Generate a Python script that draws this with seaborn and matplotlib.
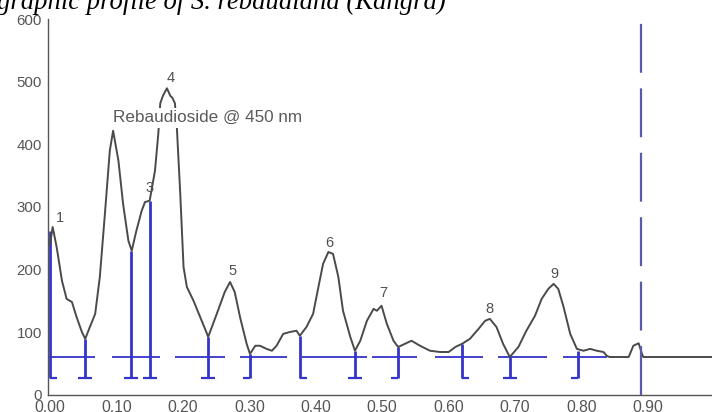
import numpy as np
import pandas as pd
import matplotlib
matplotlib.use("Agg")
import matplotlib.pyplot as plt
import seaborn as sns

# ---- data ----
rf = [0.000, 0.004, 0.010, 0.018, 0.025, 0.033, 0.040, 0.048, 0.053, 0.060,
      0.068, 0.075, 0.083, 0.090, 0.095, 0.103, 0.110, 0.118, 0.123, 0.130,
      0.138, 0.143, 0.150, 0.158, 0.163, 0.166, 0.170, 0.176, 0.181, 0.184,
      0.188, 0.191, 0.196, 0.201, 0.206, 0.216, 0.226, 0.236, 0.238, 0.251,
      0.263, 0.271, 0.278, 0.286, 0.296, 0.301, 0.309, 0.316, 0.326, 0.334,
      0.341, 0.351, 0.361, 0.371, 0.376, 0.386, 0.396, 0.404, 0.411, 0.419,
      0.426, 0.434, 0.441, 0.452, 0.459, 0.467, 0.477, 0.487, 0.492, 0.499,
      0.507, 0.517, 0.524, 0.534, 0.544, 0.557, 0.572, 0.587, 0.600, 0.610,
      0.620, 0.632, 0.645, 0.655, 0.662, 0.672, 0.682, 0.692, 0.705, 0.717,
      0.730, 0.740, 0.750, 0.758, 0.765, 0.773, 0.783, 0.793, 0.803, 0.813,
      0.823, 0.833, 0.838, 0.842, 0.871, 0.878, 0.886, 0.891, 0.893, 1.000]
au = [240, 268, 236, 182, 153, 148, 124, 100, 89, 108,
      129, 188, 294, 390, 422, 374, 305, 246, 230, 262,
      294, 308, 310, 358, 417, 466, 478, 490, 478, 475,
      466, 426, 322, 204, 172, 150, 124, 98, 92, 129,
      164, 180, 164, 124, 81, 65, 78, 78, 73, 70,
      78, 97, 100, 102, 94, 108, 129, 172, 209, 228,
      225, 188, 134, 92, 70, 86, 118, 137, 134, 142,
      113, 86, 76, 81, 86, 78, 70, 68, 68, 76,
      81, 89, 105, 118, 121, 108, 81, 60, 76, 102,
      126, 153, 169, 177, 169, 140, 97, 73, 70, 73,
      70, 68, 62, 60, 60, 78, 82, 65, 60, 60]

# integration boundaries
bound_rf = [0.000, 0.053, 0.122, 0.150, 0.238, 0.301, 0.376, 0.459, 0.524, 0.620, 0.692, 0.795]
bound_au = [262, 89, 230, 310, 92, 65, 94, 70, 76, 81, 60, 70]
bound_kind = ["start", "both", "both", "both", "both", "end", "start", "both", "end", "start", "both", "end"]
bound_bottom = 26
baseline_au = 60
seg_start = [-0.003, 0.093, 0.188, 0.286, 0.379, 0.485, 0.579, 0.674, 0.772]
seg_end = [0.068, 0.166, 0.263, 0.357, 0.477, 0.552, 0.652, 0.748, 0.838]

# peak labels
peak_names = ["1", "3", "4", "5", "6", "7", "8", "9"]
peak_rf = [0.015, 0.150, 0.181, 0.275, 0.421, 0.501, 0.662, 0.759]
peak_au = [283, 330, 507, 198, 243, 163, 137, 193]

front_rf = 0.890
x_ticks = [0.0, 0.1, 0.2, 0.3, 0.4, 0.5, 0.6, 0.7, 0.8, 0.9]
y_ticks = [0, 100, 200, 300, 400, 500, 600]
annot = "Rebaudioside @ 450 nm"
annot_pos = (0.095, 443)
title = "graphic profile of S. rebaudiana (Kangra)"

# ---- style ----
sns.set_style("white")
plt.rcParams["font.family"] = ["Liberation Sans", "DejaVu Sans"]

W, H = 712, 412
fig = plt.figure(figsize=(W / 100, H / 100), dpi=100)
ax_left, ax_bottom, ax_top = 47.5, 394.5, 19.5
ax = fig.add_axes([ax_left / W, (H - ax_bottom) / H, (W - ax_left) / W, (ax_bottom - ax_top) / H])

blue = "#3434c8"
df = pd.DataFrame({"rf": rf, "au": au})
sns.lineplot(data=df, x="rf", y="au", ax=ax, color="#4a4a4a", lw=1.4, zorder=3)

# baseline segments
ax.hlines([baseline_au] * len(seg_start), seg_start, seg_end, colors=blue, lw=1.3, zorder=2)
# boundary drop lines and feet
foot = 0.0105
ax.vlines(bound_rf, bound_bottom, bound_au, colors=blue, lw=2.0, zorder=2)
for x, k in zip(bound_rf, bound_kind):
    x0 = x - foot if k in ("both", "end") else x
    x1 = x + foot if k in ("both", "start") else x
    ax.hlines(bound_bottom, x0, x1, colors=blue, lw=1.6, zorder=2)

# solvent front line
ax.axvline(front_rf, color="#5a5aa8", lw=1.6, dashes=(22, 7), zorder=4)

for n, x, y in zip(peak_names, peak_rf, peak_au):
    ax.text(x, y, n, ha="center", va="center", fontsize=10.5, color="#505050", zorder=5)

ax.text(annot_pos[0], annot_pos[1], annot, ha="left", va="center", fontsize=12.3,
        color="#5a5a5a", zorder=6,
        bbox=dict(boxstyle="square,pad=0.15", fc="white", ec="none"))

x_lo = -(50 - ax_left) / 664.4
x_hi = (W - 50) / 664.4
ax.set_xlim(x_lo, x_hi)
ax.set_ylim(0, 600)
ax.set_xticks(x_ticks)
ax.set_xticklabels([f"{v:.2f}" for v in x_ticks])
ax.set_yticks(y_ticks)
ax.set_yticklabels([str(v) for v in y_ticks])
ax.tick_params(axis="both", direction="out", length=3, width=1, colors="#555555",
               labelsize=11.3, pad=1)
ax.tick_params(axis="y", labelsize=10.8)
ax.set_xlabel("")
ax.set_ylabel("")
for s in ["top", "right"]:
    ax.spines[s].set_visible(False)
for s in ["left", "bottom"]:
    ax.spines[s].set_color("#555555")
    ax.spines[s].set_linewidth(1.0)

fig.text(-0.004, 1 - 9 / H, title, ha="left", va="baseline", fontsize=19.2,
         fontstyle="italic", family=["Liberation Serif", "DejaVu Serif"], color="black")

fig.savefig("out.png", dpi=100)
